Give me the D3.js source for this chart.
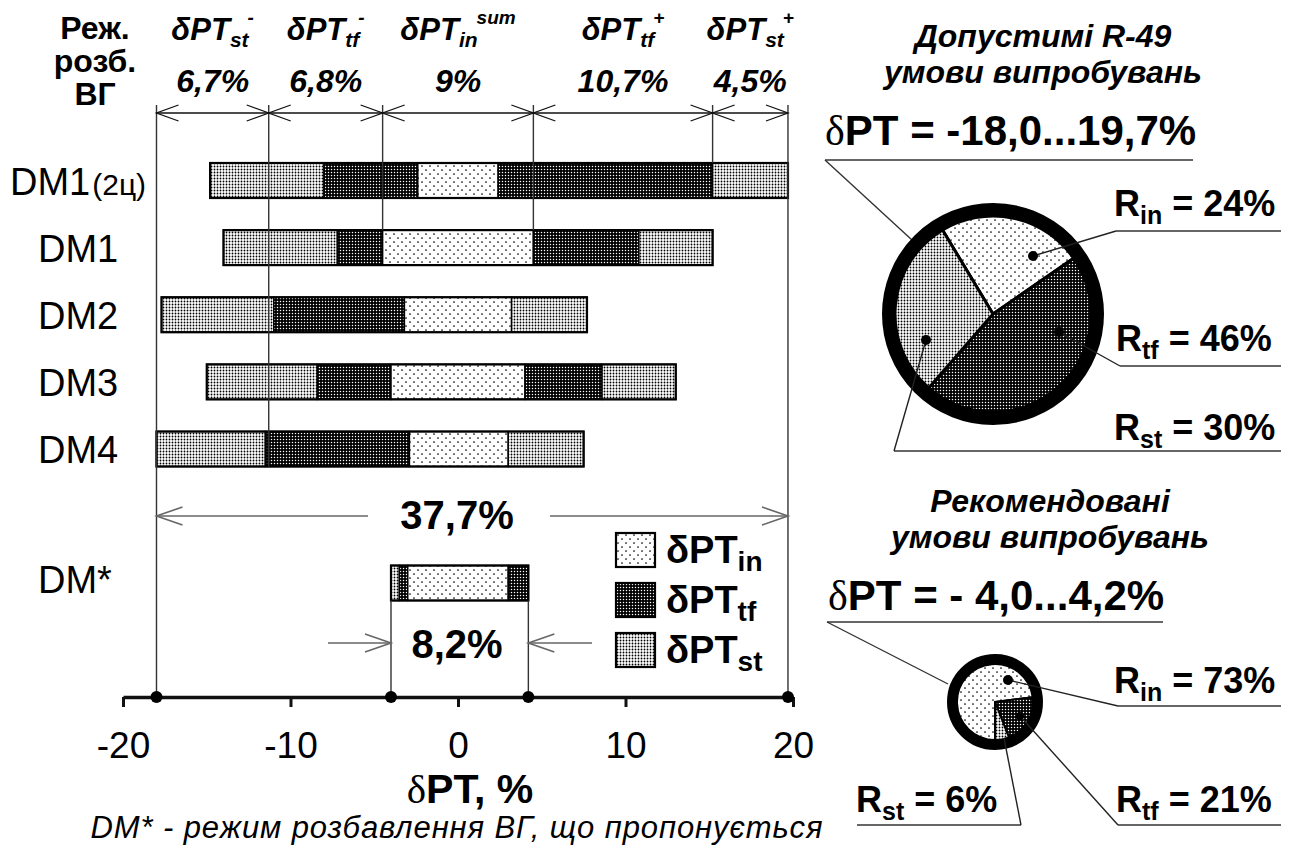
<!DOCTYPE html>
<html>
<head>
<meta charset="utf-8">
<script src="https://cdn.jsdelivr.net/npm/d3@7"></script>
<style>
  body { margin: 0; background: #fff; }
  svg { display: block; font-family: "Liberation Sans", Arial, sans-serif; }
</style>
</head>
<body>
<svg id="chart" width="1296" height="859"></svg>
<script>
// ---- data: components of the PT measurement error (δPT, %) per dilution mode ----
const rows = ["DM1(2ц)", "DM1", "DM2", "DM3", "DM4"];
const rowBreaks = [
  [-14.8, -8.0, -2.4, 2.4, 15.2, 19.7],
  [-14.0, -7.2, -4.5, 4.5, 10.8, 15.2],
  [-17.7, -11.0, -3.2, 3.2, 7.7],
  [-15.0, -8.4, -4.0, 4.0, 8.6, 13.0],
  [-18.0, -11.5, -2.9, 3.0, 7.5]
];
const rowKinds = [
  ["st", "tf", "in", "tf", "st"],
  ["st", "tf", "in", "tf", "st"],
  ["st", "tf", "in", "st"],
  ["st", "tf", "in", "tf", "st"],
  ["st", "tf", "in", "st"]
];
const starRow = "DM*";
const starBreaks = [-4.0, -3.5, -3.0, 3.0, 4.2];
const starKinds = ["st", "tf", "in", "tf"];

// envelope of all modes, split by component
const headerBreaks = [-18.0, -11.3, -4.5, 4.5, 15.2, 19.7];
const headerSub = ["st", "tf", "in", "tf", "st"];
const headerSup = ["-", "-", "sum", "+", "+"];
const headerShare = ["6,7%", "6,8%", "9%", "10,7%", "4,5%"];
const totalLabel = "37,7%";
const starLabel = "8,2%";

const axisTicks = [-20, -10, 0, 10, 20];
const axisMarks = [-18.0, -4.0, 4.2, 19.7];

// shares of the components
const pieKinds = ["in", "tf", "st"];
const pieAllowed = [24, 46, 30];
const pieRecommended = [73, 21, 6];

// ---- layout ----
const svg = d3.select("#chart");
const x = d3.scaleLinear().domain([-20, 20]).range([123, 793]);
const y = d3.scalePoint().domain(rows).range([180.5, 449]);
const yStar = 583;
const barH = 35;
const axisY = 697;
const arrowY = 113;
const guideTop = 105;

// ---- fill patterns ----
const defs = svg.append("defs");
const pIn = defs.append("pattern").attr("id", "pat-in").attr("patternUnits", "userSpaceOnUse")
  .attr("width", 8).attr("height", 8);
pIn.append("rect").attr("width", 8).attr("height", 8).attr("fill", "#fff");
pIn.append("circle").attr("cx", 2).attr("cy", 2).attr("r", 0.85).attr("fill", "#000");
pIn.append("circle").attr("cx", 6).attr("cy", 6).attr("r", 0.85).attr("fill", "#000");

const pTf = defs.append("pattern").attr("id", "pat-tf").attr("patternUnits", "userSpaceOnUse")
  .attr("width", 3).attr("height", 3);
pTf.append("rect").attr("width", 3).attr("height", 3).attr("fill", "#000");
pTf.append("circle").attr("cx", 1.5).attr("cy", 1.5).attr("r", 0.72).attr("fill", "#fff");

const pSt = defs.append("pattern").attr("id", "pat-st").attr("patternUnits", "userSpaceOnUse")
  .attr("width", 3).attr("height", 3);
pSt.append("rect").attr("width", 3).attr("height", 3).attr("fill", "#fff");
pSt.append("circle").attr("cx", 1.5).attr("cy", 1.5).attr("r", 0.92).attr("fill", "#000");

const fillOf = k => `url(#pat-${k})`;

// chevron arrow head with its tip at (tx, ty); dir = +1 points right, -1 points left
function chevron(g, tx, ty, dir, len, half, color, w) {
  g.append("path")
    .attr("d", `M${tx - dir * len},${ty - half}L${tx},${ty}L${tx - dir * len},${ty + half}`)
    .attr("fill", "none").attr("stroke", color).attr("stroke-width", w);
}

// ---- bars ----
function drawBar(g, cy, breaks, kinds) {
  const segs = kinds.map((k, i) => ({ k, a: breaks[i], b: breaks[i + 1] }));
  g.selectAll(null).data(segs).join("rect")
    .attr("x", d => x(d.a)).attr("width", d => x(d.b) - x(d.a))
    .attr("y", cy - barH / 2).attr("height", barH)
    .attr("fill", d => fillOf(d.k))
    .attr("stroke", "#000").attr("stroke-width", 1.5);
  g.append("rect")
    .attr("x", x(breaks[0])).attr("width", x(breaks[breaks.length - 1]) - x(breaks[0]))
    .attr("y", cy - barH / 2).attr("height", barH)
    .attr("fill", "none").attr("stroke", "#000").attr("stroke-width", 2.2);
}
const bars = svg.append("g");
rows.forEach((r, i) => drawBar(bars.append("g"), y(r), rowBreaks[i], rowKinds[i]));
drawBar(bars.append("g"), yStar, starBreaks, starKinds);

// ---- guide lines from the component header down to the bars ----
const guideEnd = [
  axisY,
  y(rows[4]) + barH / 2,
  y(rows[1]) - barH / 2,
  y(rows[1]) - barH / 2,
  y(rows[0]) - barH / 2,
  axisY
];
svg.append("g").selectAll("line").data(headerBreaks).join("line")
  .attr("x1", d => x(d)).attr("x2", d => x(d))
  .attr("y1", guideTop).attr("y2", (d, i) => guideEnd[i])
  .attr("stroke", "#333").attr("stroke-width", 1.4);

// guides for the recommended mode
svg.append("g").selectAll("line").data([starBreaks[0], starBreaks[starBreaks.length - 1]]).join("line")
  .attr("x1", d => x(d)).attr("x2", d => x(d))
  .attr("y1", yStar + barH / 2).attr("y2", axisY)
  .attr("stroke", "#333").attr("stroke-width", 1.4);

// ---- header dimension arrows ----
const hdr = svg.append("g");
hdr.append("line").attr("x1", x(headerBreaks[0])).attr("x2", x(headerBreaks[headerBreaks.length - 1]))
  .attr("y1", arrowY).attr("y2", arrowY).attr("stroke", "#111").attr("stroke-width", 1.4);
headerSub.forEach((s, i) => {
  chevron(hdr, x(headerBreaks[i]), arrowY, -1, 22, 8, "#111", 1.3);
  chevron(hdr, x(headerBreaks[i + 1]), arrowY, 1, 22, 8, "#111", 1.3);
  const cx = (x(headerBreaks[i]) + x(headerBreaks[i + 1])) / 2;
  const t = hdr.append("text").attr("x", cx).attr("y", 40).attr("text-anchor", "middle")
    .attr("font-size", 31).attr("font-weight", "bold").attr("font-style", "italic");
  t.append("tspan").text("δPT");
  t.append("tspan").attr("font-size", 21).attr("dy", 7).text(s);
  t.append("tspan").attr("font-size", 19).attr("dy", -23).attr("dx", -1).text(headerSup[i]);
  hdr.append("text").attr("x", cx).attr("y", 92).attr("text-anchor", "middle")
    .attr("font-size", 32).attr("font-weight", "bold").attr("font-style", "italic")
    .text(headerShare[i]);
});

// column header for the mode names
svg.append("text").attr("text-anchor", "middle")
  .attr("font-size", 32).attr("font-weight", "bold")
  .selectAll("tspan").data(["Реж.", "розб.", "ВГ"]).join("tspan")
  .attr("x", 95).attr("y", (d, i) => 39 + i * 33).text(d => d);

// ---- mode labels ----
const lab = svg.append("g").attr("font-size", 38);
rows.forEach((r, i) => {
  const m = r.match(/^([^(]+)(\(.*\))?$/);
  const t = lab.append("text").attr("x", i === 0 ? 10 : 38).attr("y", y(r) + 14);
  t.append("tspan").text(m[1]);
  if (m[2]) t.append("tspan").attr("font-size", 30).attr("dx", 2).text(m[2]);
});
lab.append("text").attr("x", 38).attr("y", yStar + 10).text(starRow);

// ---- total span arrow ----
const totY = 516;
const tot = svg.append("g");
tot.append("line").attr("x1", x(headerBreaks[0])).attr("x2", 368).attr("y1", totY).attr("y2", totY)
  .attr("stroke", "#666").attr("stroke-width", 1.6);
tot.append("line").attr("x1", 550).attr("x2", x(headerBreaks[headerBreaks.length - 1])).attr("y1", totY).attr("y2", totY)
  .attr("stroke", "#666").attr("stroke-width", 1.6);
chevron(tot, x(headerBreaks[0]), totY, -1, 26, 9, "#666", 1.6);
chevron(tot, x(headerBreaks[headerBreaks.length - 1]), totY, 1, 26, 9, "#666", 1.6);
tot.append("text").attr("x", 457).attr("y", 529).attr("text-anchor", "middle")
  .attr("font-size", 40).attr("font-weight", "bold").text(totalLabel);

// ---- recommended span arrows ----
const sY = 643;
const sp = svg.append("g");
sp.append("line").attr("x1", 328).attr("x2", x(starBreaks[0])).attr("y1", sY).attr("y2", sY)
  .attr("stroke", "#666").attr("stroke-width", 1.6);
sp.append("line").attr("x1", x(starBreaks[starBreaks.length - 1])).attr("x2", 592).attr("y1", sY).attr("y2", sY)
  .attr("stroke", "#666").attr("stroke-width", 1.6);
chevron(sp, x(starBreaks[0]), sY, 1, 26, 9, "#666", 1.6);
chevron(sp, x(starBreaks[starBreaks.length - 1]), sY, -1, 26, 9, "#666", 1.6);
sp.append("text").attr("x", 457).attr("y", 658).attr("text-anchor", "middle")
  .attr("font-size", 40).attr("font-weight", "bold").text(starLabel);

// ---- legend ----
const leg = svg.append("g").selectAll("g").data(pieKinds).join("g")
  .attr("transform", (d, i) => `translate(616,${533 + i * 50})`);
leg.append("rect").attr("width", 39).attr("height", 34).attr("fill", d => fillOf(d))
  .attr("stroke", "#000").attr("stroke-width", 2.2);
const legT = leg.append("text").attr("x", 50).attr("y", 30)
  .attr("font-size", 38).attr("font-weight", "bold");
legT.append("tspan").text("δPT");
legT.append("tspan").attr("font-size", 28).attr("dy", 8).text(d => d);

// ---- x axis ----
const ax = svg.append("g").attr("transform", `translate(0,${axisY})`)
  .call(d3.axisBottom(x).tickValues(axisTicks).tickSize(10).tickSizeOuter(0).tickFormat(d3.format("d")));
ax.select(".domain").attr("stroke", "#111").attr("stroke-width", 3.5);
ax.selectAll(".tick line").attr("stroke", "#111").attr("stroke-width", 3);
ax.selectAll(".tick text").attr("y", 61).attr("dy", 0).attr("fill", "#000")
  .attr("font-size", 37).attr("font-family", "Liberation Sans, Arial, sans-serif")
  .text(d => d < 0 ? "-" + Math.abs(d) : d);
ax.selectAll("circle.mark").data(axisMarks).join("circle").attr("class", "mark")
  .attr("cx", d => x(d)).attr("cy", 0).attr("r", 6).attr("fill", "#000");

const axT = svg.append("text").attr("x", 470).attr("y", 803).attr("text-anchor", "middle")
  .attr("font-size", 41).attr("font-weight", "bold");
axT.append("tspan").attr("font-family", "Liberation Serif, Times New Roman, serif").attr("font-weight", "normal").text("δ");
axT.append("tspan").text("PT, %");

svg.append("text").attr("x", 457).attr("y", 838).attr("text-anchor", "middle")
  .attr("font-size", 31).attr("font-style", "italic").attr("letter-spacing", 0.9)
  .text("DM* - режим розбавлення ВГ, що пропонується");

// ---- pies ----
function drawPie(cfg) {
  const g = svg.append("g");
  // titles
  const tt = g.append("text").attr("text-anchor", "middle").attr("font-size", 32)
    .attr("font-weight", "bold").attr("font-style", "italic");
  cfg.title.forEach((s, i) => tt.append("tspan").attr("x", cfg.titleX).attr("y", cfg.titleY + i * 36).text(s));

  // range label with underline
  const rl = g.append("text").attr("x", cfg.range.x).attr("y", cfg.range.y)
    .attr("font-size", 42).attr("font-weight", "bold");
  rl.append("tspan").attr("font-family", "Liberation Serif, Times New Roman, serif").attr("font-weight", "normal").text("δ");
  rl.append("tspan").text(cfg.range.text);
  g.append("line").attr("x1", cfg.range.u[0]).attr("x2", cfg.range.u[1])
    .attr("y1", cfg.range.uy).attr("y2", cfg.range.uy).attr("stroke", "#333").attr("stroke-width", 1.6);
  g.append("polyline").attr("points", cfg.range.lead.map(p => p.join(",")).join(" "))
    .attr("fill", "none").attr("stroke", "#333").attr("stroke-width", 1.4);

  const pie = d3.pie().sort(null).startAngle(cfg.start).endAngle(cfg.start + 2 * Math.PI);
  const arcs = pie(cfg.values);
  const arc = d3.arc().innerRadius(0).outerRadius(cfg.rIn);
  const pg = g.append("g").attr("transform", `translate(${cfg.cx},${cfg.cy})`);
  pg.selectAll("path").data(arcs).join("path")
    .attr("d", arc).attr("fill", (d, i) => fillOf(pieKinds[i]))
    .attr("stroke", "#000").attr("stroke-width", cfg.sep).attr("stroke-linejoin", "round");
  pg.append("circle").attr("r", cfg.rIn + cfg.ring / 2).attr("fill", "none")
    .attr("stroke", "#000").attr("stroke-width", cfg.ring);

  // component labels with leaders
  cfg.labels.forEach((L, i) => {
    const t = g.append("text").attr("x", L.x).attr("y", L.y).attr("font-size", 36).attr("font-weight", "bold");
    t.append("tspan").text("R");
    t.append("tspan").attr("font-size", 25).attr("dy", 8).text(pieKinds[L.k]);
    t.append("tspan").attr("dy", -8).text(" = " + cfg.values[L.k] + "%");
    g.append("line").attr("x1", L.u[0]).attr("x2", L.u[1]).attr("y1", L.uy).attr("y2", L.uy)
      .attr("stroke", "#333").attr("stroke-width", 1.6);
    const end = [cfg.cx + L.dot[0], cfg.cy + L.dot[1]];
    g.append("line").attr("x1", L.lead[0]).attr("y1", L.lead[1]).attr("x2", end[0]).attr("y2", end[1])
      .attr("stroke", "#222").attr("stroke-width", 1.4);
    if (L.r) g.append("circle").attr("cx", end[0]).attr("cy", end[1]).attr("r", L.r).attr("fill", "#000");
  });
}

drawPie({
  title: ["Допустимі R-49", "умови випробувань"], titleX: 1043, titleY: 47,
  range: { x: 825, y: 145, text: "PT = -18,0...19,7%", u: [825, 1193], uy: 160,
           lead: [[825, 160], [912, 240]] },
  values: pieAllowed, start: -31 * Math.PI / 180,
  cx: 993, cy: 314, rIn: 98, ring: 13, sep: 3,
  labels: [
    { k: 0, x: 1114, y: 216, u: [1116, 1281], uy: 231, lead: [1116, 231], dot: [40, -58], r: 5 },
    { k: 1, x: 1116, y: 351, u: [1120, 1281], uy: 366, lead: [1120, 366], dot: [66, 18], r: 5 },
    { k: 2, x: 1114, y: 440, u: [894, 1281], uy: 451, lead: [894, 451], dot: [-67, 26], r: 5 }
  ]
});

drawPie({
  title: ["Рекомендовані", "умови випробувань"], titleX: 1050, titleY: 512,
  range: { x: 828, y: 610, text: "PT = - 4,0...4,2%", u: [827, 1163], uy: 622,
           lead: [[827, 622], [948, 684]] },
  values: pieRecommended, start: Math.PI,
  cx: 995, cy: 702, rIn: 38, ring: 10, sep: 2,
  labels: [
    { k: 0, x: 1114, y: 693, u: [1118, 1281], uy: 706, lead: [1118, 706], dot: [13, -22], r: 5 },
    { k: 1, x: 1116, y: 812, u: [1118, 1281], uy: 825, lead: [1118, 825], dot: [25, 14], r: 4 },
    { k: 2, x: 856, y: 812, u: [857, 1021], uy: 825, lead: [1021, 825], dot: [9, 36], r: 0 }
  ]
});
</script>
</body>
</html>
